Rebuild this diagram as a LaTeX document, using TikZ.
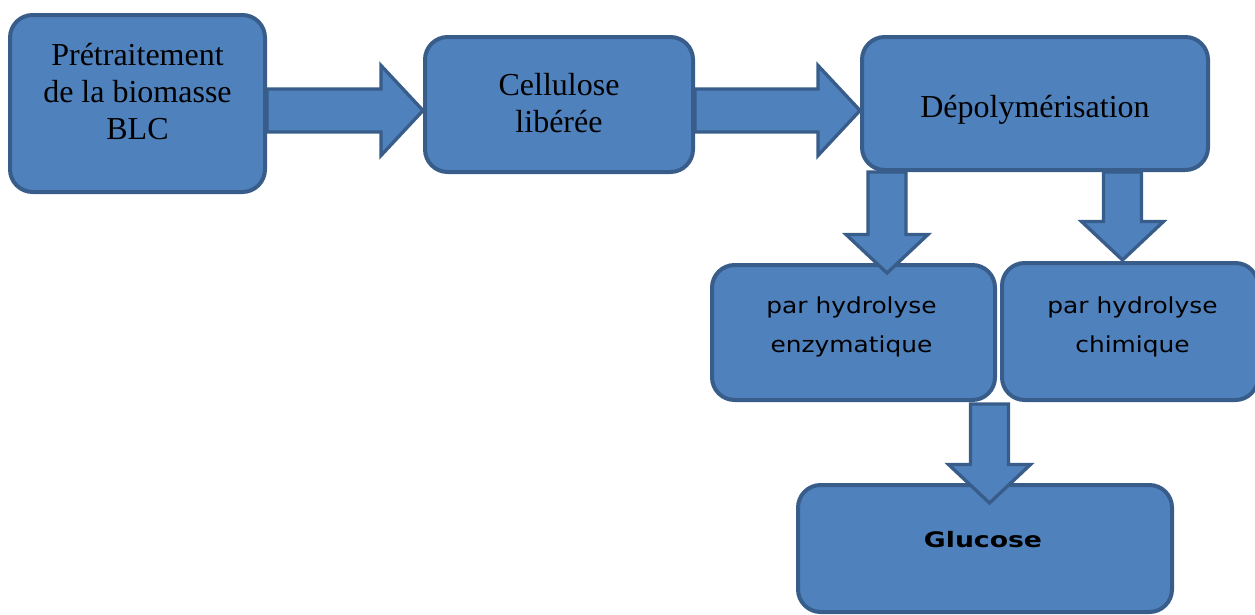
\documentclass[tikz,border=0pt]{standalone}
\usepackage{fontspec}
\setmainfont{Liberation Serif}
\newfontfamily\hydrofont{DejaVu Sans}[FakeStretch=1.13]
\newfontfamily\glucofont{DejaVu Sans}[FakeStretch=1.25]
\usetikzlibrary{calc}
\definecolor{boxfill}{HTML}{4F81BD}
\definecolor{boxedge}{HTML}{385D8A}
\newcommand{\px}{0.75pt}
\tikzstyle{box}=[draw=boxedge, fill=boxfill, line width=3pt, rounded corners=17pt, inner sep=0pt]
\tikzstyle{serif}=[align=center, inner sep=0pt, font=\fontsize{24}{27.75}\selectfont]
\tikzstyle{sans}=[align=center, inner sep=0pt, font=\hydrofont\fontsize{16.5}{29.25}\selectfont]
\tikzstyle{blockarrow}=[draw=boxedge, fill=boxfill, line width=2.5pt]
% fat arrow: start, tip, shaft half width, head half width, head length
\newcommand{\fatarrow}[5]{%
  \path ($(#2)!#5!(#1)$) coordinate (fa-base);
  \draw[blockarrow] ($(#1)!#3!90:(#2)$) -- ($(fa-base)!#3!90:(#2)$)
    -- ($(fa-base)!#4!90:(#2)$) -- (#2) -- ($(fa-base)!#4!-90:(#2)$)
    -- ($(fa-base)!#3!-90:(#2)$) -- ($(#1)!#3!-90:(#2)$) -- cycle;
}

\begin{document}
\begin{tikzpicture}[x=0.75pt, y=-0.75pt]
    \useasboundingbox (0,0) rectangle (1255,614);
    \node[box, minimum width=255*\px, minimum height=177*\px] (pretr) at (137.5,103.5) {};
    \node[box, minimum width=268*\px, minimum height=135*\px] (cellu) at (559,104.5) {};
    \node[box, minimum width=346*\px, minimum height=133*\px] (depol) at (1035,103.5) {};
    \node[box, minimum width=283*\px, minimum height=135*\px] (enzym) at (853.5,332.5) {};
    \node[box, minimum width=256*\px, minimum height=137*\px] (chim) at (1130,331.5) {};
    \node[box, minimum width=374*\px, minimum height=127*\px] (gluc) at (985,548.5) {};

    \node[serif] (pretr-t) at (137.5,91.5) {Prétraitement\\de la biomasse\\BLC};
    \node[serif] (cellu-t) at (559,103) {Cellulose\\libérée};
    \node[serif] (depol-t) at (1035,109.5) {Dépolymérisation};
    \node[sans] (enzym-t) at (851.5,327) {par hydrolyse\\enzymatique};
    \node[sans] (chim-t) at (1132.5,327) {par hydrolyse\\chimique};
    \node[inner sep=0pt, font=\glucofont\bfseries\fontsize{16}{18}\selectfont] (gluc-t) at (983,540) {Glucose};

    \coordinate (r1s) at ($(pretr.east)+(0,7)$);
    \coordinate (r1e) at ($(cellu.west)+(0,6)$);
    \coordinate (r2s) at ($(cellu.east)+(0,6)$);
    \coordinate (r2e) at ($(depol.west)+(0,7)$);
    \coordinate (d1s) at ($(depol.south west)+(27,0)$);
    \coordinate (d1e) at ($(d1s |- enzym.north)+(0,10)$);
    \coordinate (d2s) at ($(depol.south west)+(262.5,0)$);
    \coordinate (d2e) at ($(d2s |- chim.north)+(0,-1)$);
    \coordinate (d3s) at ($(enzym.south west)+(279.5,2)$);
    \coordinate (d3e) at ($(d3s |- gluc.north)+(0,20)$);
    \fatarrow{r1s}{r1e}{16.1pt}{33.75pt}{31.5pt}
    \fatarrow{r2s}{r2e}{16.1pt}{33.75pt}{31.5pt}
    \fatarrow{d1s}{d1e}{14.25pt}{30.75pt}{28.9pt}
    \fatarrow{d2s}{d2e}{14.25pt}{30.75pt}{28.9pt}
    \fatarrow{d3s}{d3e}{14.25pt}{30.75pt}{28.9pt}
\end{tikzpicture}
\end{document}
